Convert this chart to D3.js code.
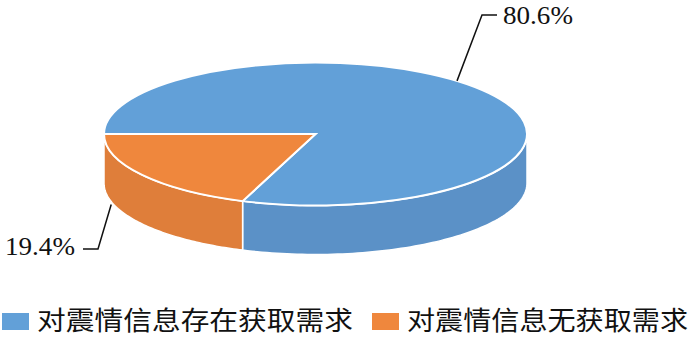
<!DOCTYPE html>
<html>
<head>
<meta charset="utf-8">
<script src="https://cdn.jsdelivr.net/npm/d3@7"></script>
<style>
  html, body { margin: 0; padding: 0; background: #fff; }
  svg { display: block; }
</style>
</head>
<body>
<div id="app"></div>
<script>
(() => {
    // data
    const categories = ['对震情信息存在获取需求', '对震情信息无获取需求'];
    const values = [80.6, 19.4];
    const labels = ['80.6%', '19.4%'];
    const topColors = ['#62a0d8', '#ef873d'];
    const sideColors = ['#5b91c7', '#df7e3a'];

    const width = 700;
    const height = 337;

    // ellipse geometry of the 3D pie
    const cx = 315.5;
    const cy = 134;
    const rx = 211.5;
    const ry = 71.5;
    const depth = 49;

    const svg = d3.select('#app').append('svg')
        .attr('width', width)
        .attr('height', height);

    const pie = d3.pie()
        .sort(null)
        .startAngle(-Math.PI / 2)
        .endAngle(3 * Math.PI / 2);
    const arcs = pie(values);

    const pt = (a, dy = 0, k = 1) => [cx + rx * k * Math.sin(a), cy - ry * k * Math.cos(a) + dy];
    const line = d3.line();

    // side walls (front half only: from 3 o'clock through 6 to 9 o'clock)
    const sides = svg.append('g');
    arcs.forEach((d, i) => {
        const a0 = Math.max(d.startAngle, Math.PI / 2);
        const a1 = Math.min(d.endAngle, 3 * Math.PI / 2);
        if (a1 <= a0) {
            return;
        }
        const n = 80;
        const topEdge = d3.range(n + 1).map(j => pt(a0 + (a1 - a0) * j / n));
        const bottomEdge = d3.range(n + 1).map(j => pt(a1 - (a1 - a0) * j / n, depth));
        sides.append('path')
            .attr('d', line(topEdge.concat(bottomEdge)) + 'Z')
            .attr('fill', sideColors[i])
            .attr('stroke', '#fff')
            .attr('stroke-width', 1.5)
            .attr('stroke-linejoin', 'round');
    });

    // top faces
    const arc = d3.arc().innerRadius(0).outerRadius(rx);
    svg.append('g')
        .attr('transform', `translate(${cx},${cy}) scale(1,${ry / rx})`)
      .selectAll('path')
      .data(arcs)
      .enter().append('path')
        .attr('d', arc)
        .attr('fill', (d, i) => topColors[i])
        .attr('stroke', '#fff')
        .attr('stroke-width', 2)
        .attr('vector-effect', 'non-scaling-stroke');

    // data labels with leader lines
    const labelLayout = [
        { angle: 42 * Math.PI / 180, dy: 0, k: 1.0, elbow: [482, 15], end: [497, 15], tx: 503, ty: 24 },
        { angle: 255 * Math.PI / 180, dy: depth + 3, k: 1.0, elbow: [98, 249], end: [83, 249], tx: 5, ty: 255 },
    ];
    labelLayout.forEach((l, i) => {
        svg.append('path')
            .attr('d', line([pt(l.angle, l.dy, l.k), l.elbow, l.end]))
            .attr('fill', 'none')
            .attr('stroke', '#111')
            .attr('stroke-width', 1.5);
        svg.append('text')
            .attr('x', l.tx)
            .attr('y', l.ty)
            .attr('textLength', 70)
            .attr('lengthAdjust', 'spacingAndGlyphs')
            .style('font', '26px "Liberation Serif", "Times New Roman", serif')
            .attr('fill', '#111')
            .text(labels[i]);
    });

    // legend
    const legendX = [2, 372];
    const legendTextLen = [316, 281];
    const legend = svg.append('g')
      .selectAll('g')
      .data(categories)
      .enter().append('g')
        .attr('transform', (d, i) => `translate(${legendX[i]},313)`);
    legend.append('rect')
        .attr('width', 27)
        .attr('height', 17)
        .attr('fill', (d, i) => topColors[i]);
    legend.append('text')
        .attr('x', 35)
        .attr('y', 17)
        .attr('textLength', (d, i) => legendTextLen[i])
        .attr('lengthAdjust', 'spacingAndGlyphs')
        .style('font', '26px "Noto Sans CJK SC", sans-serif')
        .attr('fill', '#111')
        .text(d => d);
})();
</script>
</body>
</html>
